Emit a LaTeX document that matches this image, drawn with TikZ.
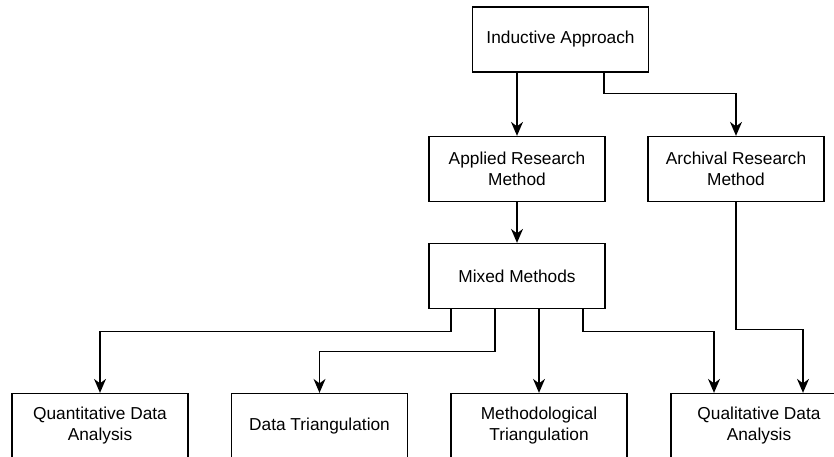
\documentclass[tikz,border=0pt]{standalone}
\usepackage{fontspec}
\setmainfont{Liberation Sans}
\usetikzlibrary{arrows.meta}
\begin{document}
\begin{tikzpicture}[x=1pt,y=-1pt,
  box/.style={draw,line width=1.3pt,minimum width=176pt,minimum height=65pt,
    inner sep=0pt,align=center,font=\fontsize{17.3}{21}\selectfont},
  link/.style={line width=1.3pt,-{Stealth[length=14pt,width=12pt,inset=4.5pt]}}]
\clip (0,0) rectangle (834,457);
\node[box] (ind) at (560.5,39.5) {Inductive Approach};
\node[box] (app) at (517,169) {Applied Research\\Method};
\node[box] (arc) at (736,169) {Archival Research\\Method};
\node[box] (mix) at (517,276) {Mixed Methods};
\node[box] (quant) at (100,426) {Quantitative Data\\Analysis};
\node[box] (dtri) at (319.5,426) {Data Triangulation};
\node[box] (mtri) at (539,426) {Methodological\\Triangulation};
\node[box] (qual) at (759,426) {Qualitative Data\\Analysis};
\draw[link] (ind.south -| app) -- (app);
\draw[link] ([xshift=43.5pt]ind.south) -- ++(0,21) -| (arc);
\draw[link] (app) -- (mix);
\draw[link] ([xshift=-66pt]mix.south) -- ++(0,22) -| (quant);
\draw[link] ([xshift=-22pt]mix.south) -- ++(0,42) -| (dtri);
\draw[link] ([xshift=22pt]mix.south) -- (mtri);
\draw[link] ([xshift=66pt]mix.south) -- ++(0,22) -| ([xshift=-45pt]qual.north);
\draw[link] (arc.south) -- ++(0,127) -| ([xshift=44pt]qual.north);
\end{tikzpicture}
\end{document}
